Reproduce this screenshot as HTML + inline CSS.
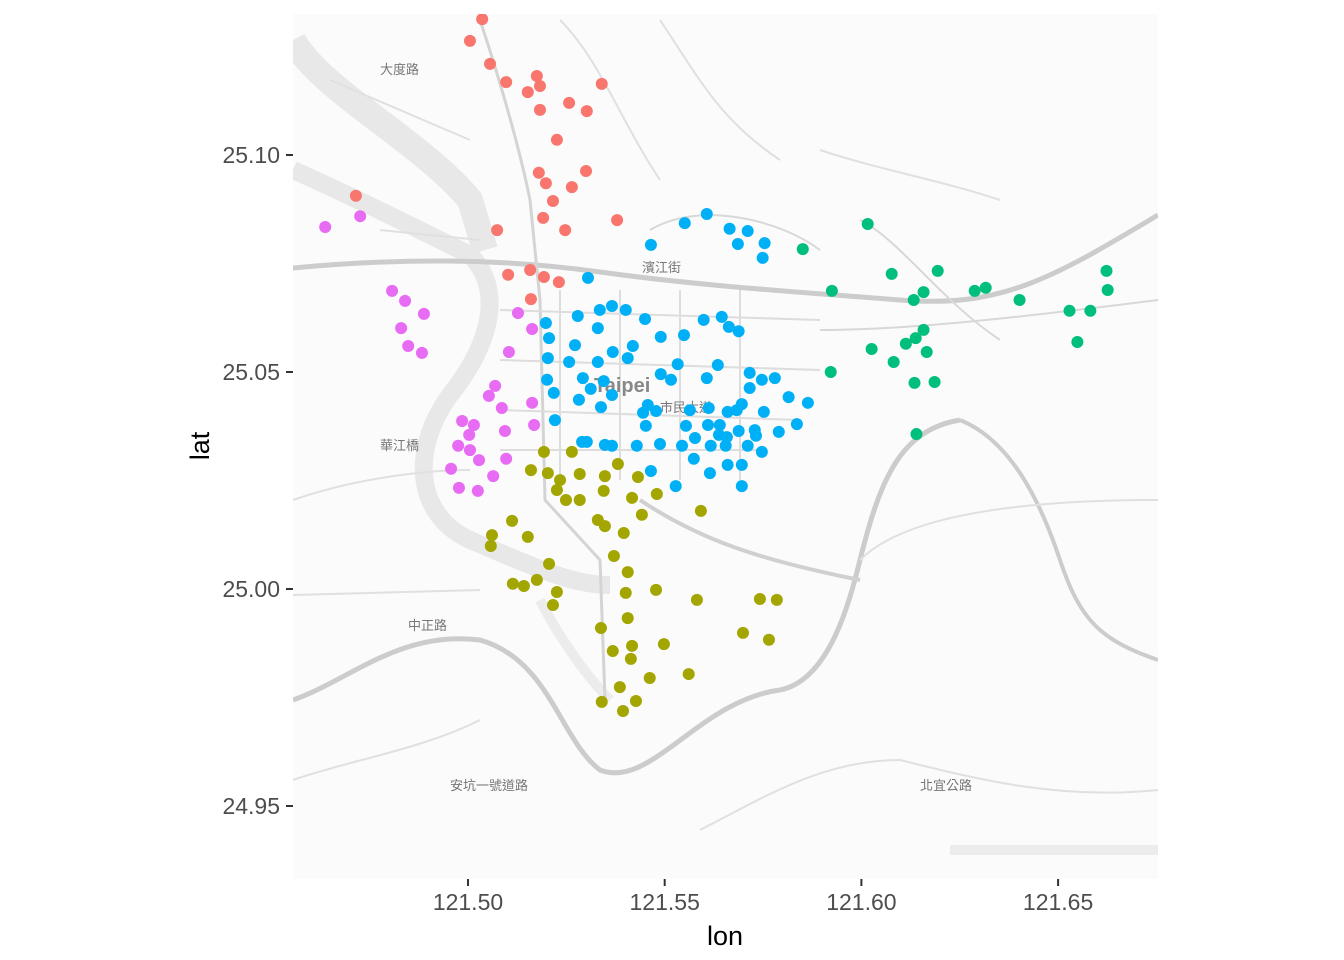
<!DOCTYPE html>
<html><head><meta charset="utf-8"><style>
body{margin:0;background:#fff;}
svg{display:block;font-family:"Liberation Sans","Noto Sans CJK TC",sans-serif;}
</style></head><body>
<svg id="chart" width="1344" height="960">
<defs><clipPath id="clip"><rect x="293" y="14" width="865" height="865"/></clipPath></defs>
<g clip-path="url(#clip)">
<rect x="293" y="14" width="865" height="865" fill="#fbfbfb"/>
<path d="M293,170 C350,195 430,235 470,255 C505,290 490,345 450,395 C410,450 415,515 470,540 C530,565 570,585 610,585" fill="none" stroke="#e8e8e8" stroke-width="18"/>
<path d="M293,40 C320,90 420,140 470,200 L485,250" fill="none" stroke="#e8e8e8" stroke-width="26"/>
<path d="M540,600 C560,640 590,680 610,700 M950,850 L1158,850" fill="none" stroke="#ececec" stroke-width="10"/>
<path d="M293,268 C400,258 500,258 600,272 S800,292 900,300 S1050,280 1158,215" fill="none" stroke="#cccccc" stroke-width="5"/>
<path d="M293,700 C350,680 400,630 480,640 C550,660 560,740 600,770 C650,790 700,700 780,690 C830,680 850,600 860,560 C880,480 900,430 960,420" fill="none" stroke="#cccccc" stroke-width="5"/>
<path d="M960,420 C1010,440 1040,500 1060,560 C1080,620 1100,640 1158,660" fill="none" stroke="#cccccc" stroke-width="4"/>
<path d="M640,500 C700,540 760,560 860,580" fill="none" stroke="#d0d0d0" stroke-width="4"/>
<path d="M480,20 C500,80 520,150 530,200 L540,300 L545,500 L600,560 L605,700" fill="none" stroke="#d4d4d4" stroke-width="3"/>
<path d="M500,310 L820,320 M500,360 L820,370 M500,410 L800,420 M500,450 L760,450 M560,290 L560,480 M620,290 L620,480 M680,290 L680,480 M740,290 L740,480" fill="none" stroke="#dddddd" stroke-width="2"/>
<path d="M650,230 C700,200 780,220 820,250 M860,220 C900,240 940,300 1000,340 M820,330 C900,330 1000,320 1158,300" fill="none" stroke="#d8d8d8" stroke-width="2"/>
<path d="M293,595 L480,590 M293,500 C350,480 420,470 470,470 M330,80 L470,140 M380,230 L480,240 M560,20 C600,60 620,120 660,180 M660,20 C700,80 720,120 780,160 M820,150 C880,170 940,180 1000,200 M860,560 C900,520 1000,500 1158,500 M293,780 C350,760 420,750 480,720 M700,830 C760,800 820,760 900,760 M900,760 C980,780 1060,800 1158,790" fill="none" stroke="#e0e0e0" stroke-width="2"/>
<text x="594" y="392" font-size="20" font-weight="bold" fill="#888">Taipei</text>
<text x="380" y="74" font-size="13" fill="#777">大度路</text>
<text x="642" y="272" font-size="13" fill="#777">濱江街</text>
<text x="660" y="412" font-size="13" fill="#777">市民大道</text>
<text x="380" y="450" font-size="13" fill="#777">華江橋</text>
<text x="408" y="630" font-size="13" fill="#777">中正路</text>
<text x="450" y="790" font-size="13" fill="#777">安坑一號道路</text>
<text x="920" y="790" font-size="13" fill="#777">北宜公路</text>
</g>
<g id="axes" font-size="23" fill="#4d4d4d"></g>
<g id="points" clip-path="url(#clip)"></g>
<text x="725" y="945" font-size="27" text-anchor="middle" fill="#000">lon</text>
<text transform="translate(209,446) rotate(-90)" font-size="27" text-anchor="middle" fill="#000">lat</text>
</svg>
<script>
const xTicks=[121.50,121.55,121.60,121.65];
const yTicks=[24.95,25.00,25.05,25.10];
const groups=["north","west","east","south","central"];
const colors=["#F8766D","#E76BF3","#00BF7D","#A3A500","#00B0F6"];
const lonNorth=[121.5036,121.5005,121.5056,121.5097,121.5175,121.5183,121.5152,121.5340,121.5257,121.5302,121.5183,121.5226,121.5180,121.5300,121.5198,121.5264,121.5216,121.5379,121.5191,121.5247,121.5074,121.4715,121.5102,121.5158,121.5193,121.5231,121.5160];
const latNorth=[25.1313,25.1263,25.1210,25.1168,25.1182,25.1159,25.1145,25.1164,25.1120,25.1101,25.1104,25.1035,25.0959,25.0963,25.0935,25.0926,25.0894,25.0850,25.0855,25.0827,25.0827,25.0906,25.0724,25.0735,25.0719,25.0707,25.0668];
const lonWest=[121.4637,121.4726,121.4807,121.4840,121.4888,121.4830,121.4848,121.4883,121.5127,121.5163,121.5104,121.5069,121.5053,121.5086,121.5163,121.4985,121.5015,121.5168,121.5003,121.5094,121.4975,121.5005,121.5028,121.5097,121.4957,121.5064,121.4977,121.5025];
const latWest=[25.0834,25.0859,25.0687,25.0664,25.0634,25.0601,25.0560,25.0544,25.0636,25.0599,25.0546,25.0468,25.0445,25.0417,25.0429,25.0387,25.0378,25.0378,25.0355,25.0364,25.0330,25.0320,25.0297,25.0300,25.0277,25.0260,25.0233,25.0226];
const lonEast=[121.6016,121.5851,121.6077,121.6194,121.5925,121.6158,121.6133,121.6288,121.6316,121.6402,121.6623,121.6626,121.6529,121.6582,121.6158,121.6138,121.6113,121.6026,121.6166,121.6082,121.5922,121.6135,121.6186,121.6140,121.6549];
const latEast=[25.0841,25.0783,25.0726,25.0733,25.0687,25.0684,25.0666,25.0687,25.0694,25.0666,25.0733,25.0689,25.0641,25.0641,25.0597,25.0578,25.0565,25.0553,25.0546,25.0523,25.0500,25.0475,25.0477,25.0357,25.0569];
const lonSouth=[121.5193,121.5264,121.5160,121.5203,121.5234,121.5284,121.5348,121.5381,121.5432,121.5226,121.5249,121.5284,121.5345,121.5417,121.5480,121.5442,121.5330,121.5348,121.5396,121.5112,121.5152,121.5061,121.5058,121.5592,121.5371,121.5206,121.5406,121.5175,121.5114,121.5142,121.5226,121.5478,121.5401,121.5216,121.5582,121.5742,121.5785,121.5406,121.5338,121.5699,121.5765,121.5417,121.5368,121.5498,121.5414,121.5561,121.5462,121.5386,121.5340,121.5427,121.5394];
const latSouth=[25.0316,25.0316,25.0274,25.0267,25.0251,25.0265,25.0260,25.0288,25.0258,25.0228,25.0205,25.0205,25.0226,25.0210,25.0219,25.0171,25.0159,25.0145,25.0129,25.0157,25.0120,25.0124,25.0099,25.0180,25.0076,25.0058,25.0039,25.0021,25.0012,25.0007,24.9993,24.9998,24.9991,24.9963,24.9975,24.9977,24.9975,24.9933,24.9910,24.9899,24.9883,24.9869,24.9857,24.9873,24.9839,24.9804,24.9795,24.9774,24.9740,24.9742,24.9719];
const lonCentral=[121.5305,121.5465,121.5551,121.5607,121.5665,121.5711,121.5686,121.5754,121.5749,121.5366,121.5401,121.5335,121.5279,121.5198,121.5450,121.5330,121.5599,121.5645,121.5490,121.5549,121.5688,121.5663,121.5206,121.5272,121.5419,121.5368,121.5330,121.5406,121.5257,121.5203,121.5533,121.5635,121.5607,121.5490,121.5516,121.5716,121.5201,121.5292,121.5345,121.5312,121.5716,121.5747,121.5780,121.5218,121.5366,121.5282,121.5457,121.5478,121.5564,121.5683,121.5815,121.5864,121.5752,121.5445,121.5338,121.5221,121.5612,121.5660,121.5696,121.5452,121.5554,121.5610,121.5640,121.5638,121.5658,121.5688,121.5729,121.5836,121.5790,121.5290,121.5302,121.5348,121.5366,121.5429,121.5488,121.5577,121.5544,121.5617,121.5655,121.5711,121.5747,121.5574,121.5465,121.5615,121.5660,121.5696,121.5528,121.5696,121.5732];
const latCentral=[25.0717,25.0793,25.0843,25.0864,25.0830,25.0825,25.0795,25.0797,25.0763,25.0652,25.0643,25.0643,25.0629,25.0613,25.0622,25.0601,25.0620,25.0627,25.0581,25.0585,25.0594,25.0604,25.0578,25.0562,25.0560,25.0546,25.0523,25.0532,25.0523,25.0532,25.0518,25.0516,25.0486,25.0495,25.0482,25.0498,25.0482,25.0486,25.0479,25.0461,25.0463,25.0482,25.0486,25.0452,25.0447,25.0436,25.0424,25.0410,25.0412,25.0412,25.0442,25.0429,25.0408,25.0406,25.0419,25.0389,25.0417,25.0408,25.0426,25.0376,25.0376,25.0378,25.0378,25.0355,25.0350,25.0364,25.0366,25.0380,25.0362,25.0339,25.0339,25.0332,25.0330,25.0330,25.0334,25.0348,25.0330,25.0330,25.0330,25.0330,25.0316,25.0300,25.0272,25.0267,25.0286,25.0286,25.0237,25.0237,25.0353];

const NS="http://www.w3.org/2000/svg";
function xs(lon){return 468+(lon-121.5)*3934;}
function ys(lat){return 155-(lat-25.1)*4340;}
const ax=document.getElementById('axes');
xTicks.forEach(t=>{
  const l=document.createElementNS(NS,'line');
  l.setAttribute('x1',xs(t));l.setAttribute('x2',xs(t));l.setAttribute('y1',879);l.setAttribute('y2',886);
  l.setAttribute('stroke','#333');l.setAttribute('stroke-width','2');
  
  
  ax.appendChild(l);
  const tx=document.createElementNS(NS,'text');
  tx.setAttribute('x',xs(t));tx.setAttribute('y',910);tx.setAttribute('text-anchor','middle');
  tx.textContent=t.toFixed(2);
  
  
  ax.appendChild(tx);
});
yTicks.forEach(t=>{
  const l=document.createElementNS(NS,'line');
  l.setAttribute('x1',286);l.setAttribute('x2',293);l.setAttribute('y1',ys(t));l.setAttribute('y2',ys(t));
  l.setAttribute('stroke','#333');l.setAttribute('stroke-width','2');
  
  
  ax.appendChild(l);
  const tx=document.createElementNS(NS,'text');
  tx.setAttribute('x',280);tx.setAttribute('y',ys(t)+8);tx.setAttribute('text-anchor','end');
  tx.textContent=t.toFixed(2);
  
  
  ax.appendChild(tx);
});
const pg=document.getElementById('points');
const lons=[lonNorth,lonWest,lonEast,lonSouth,lonCentral];
const lats=[latNorth,latWest,latEast,latSouth,latCentral];
lons.forEach((arr,g)=>{
  arr.forEach((lon,i)=>{
    const c=document.createElementNS(NS,'circle');
    c.setAttribute('cx',xs(lon));c.setAttribute('cy',ys(lats[g][i]));c.setAttribute('r',6);
    c.setAttribute('fill',colors[g]);
    
    
    pg.appendChild(c);
  });
});
</script>
</body></html>
